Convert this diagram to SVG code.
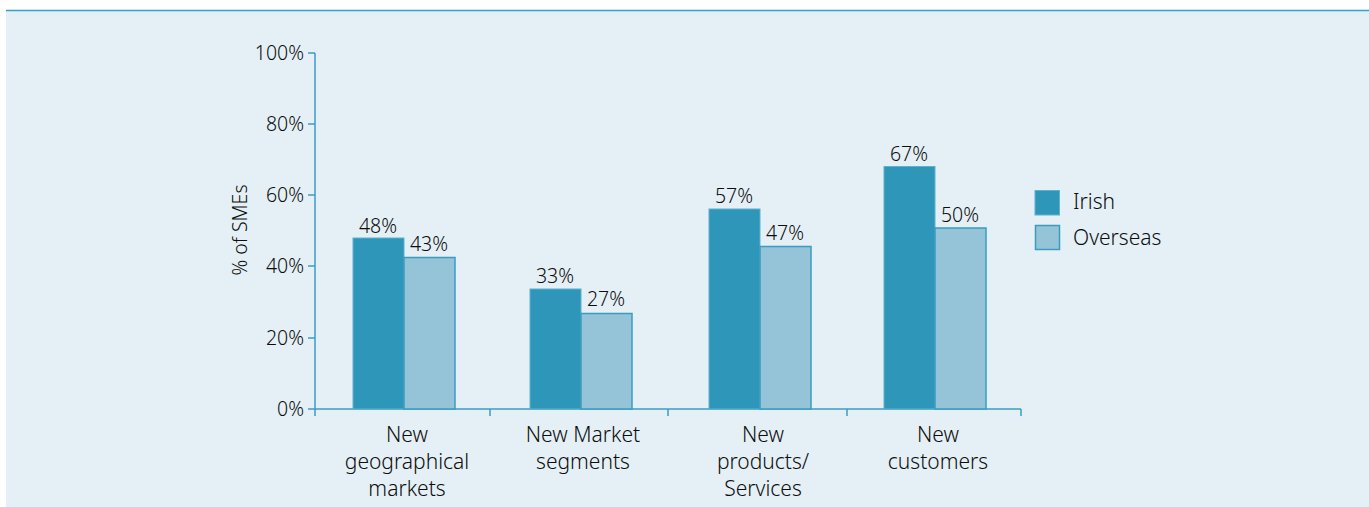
<svg xmlns="http://www.w3.org/2000/svg" width="1369" height="507" viewBox="0 0 1369 507">
<style>
.t{font-family:"Noto Sans","Open Sans","Liberation Sans",sans-serif;fill:#0d0d0d;font-weight:300}
.v{font-size:19.5px;text-anchor:middle}
.y{font-size:19.5px;text-anchor:end}
.c{font-size:21px;text-anchor:middle}
.yt{font-size:19.5px;text-anchor:middle}
.l{font-size:21px}
.ir{fill:#2e96b8;stroke:#5fb0cc;stroke-width:1}
.ov{fill:#95c3d8;stroke:#3a9cc0;stroke-width:1.5}
.ax{stroke:#3a9cc8;stroke-width:1.5;fill:none}
</style>
<rect x="6" y="10" width="1363" height="497" fill="#e4f0f5"/>
<line x1="6" y1="10.5" x2="1369" y2="10.5" stroke="#2ea0cc" stroke-width="1.5"/>
<g id="axes">
<path class="ax" d="M315 53V409M308 53H315M308 124H315M308 195H315M308 266H315M308 338H315M308 409H1021M315 409V416M490 409V416M668 409V416M847 409V416M1021 409V416"/>
<text class="t y" x="304" y="60">100%</text>
<text class="t y" x="304" y="131">80%</text>
<text class="t y" x="304" y="202">60%</text>
<text class="t y" x="304" y="273">40%</text>
<text class="t y" x="304" y="345">20%</text>
<text class="t y" x="304" y="416">0%</text>
<text class="t yt" transform="translate(247 230) rotate(-90)">% of SMEs</text>
</g>
<g id="g1">
<rect class="ir" x="353" y="238" width="51" height="171"/>
<rect class="ov" x="404" y="257.5" width="51" height="151.5"/>
<text class="t v" x="378" y="233">48%</text>
<text class="t v" x="429" y="251">43%</text>
<text class="t c" x="407" y="442">New</text>
<text class="t c" x="407" y="469">geographical</text>
<text class="t c" x="407" y="496">markets</text>
</g>
<g id="g2">
<rect class="ir" x="530" y="289" width="51" height="120"/>
<rect class="ov" x="581" y="313.5" width="51" height="95.5"/>
<text class="t v" x="555" y="283">33%</text>
<text class="t v" x="606" y="306">27%</text>
<text class="t c" x="583" y="442">New Market</text>
<text class="t c" x="583" y="469">segments</text>
</g>
<g id="g3">
<rect class="ir" x="709" y="209" width="51" height="200"/>
<rect class="ov" x="760" y="246.5" width="51" height="162.5"/>
<text class="t v" x="734" y="203">57%</text>
<text class="t v" x="785" y="240">47%</text>
<text class="t c" x="763" y="442">New</text>
<text class="t c" x="763" y="469">products/</text>
<text class="t c" x="763" y="496">Services</text>
</g>
<g id="g4">
<rect class="ir" x="884" y="166.5" width="51" height="242.5"/>
<rect class="ov" x="935" y="228" width="51" height="181"/>
<text class="t v" x="909" y="161">67%</text>
<text class="t v" x="960" y="222">50%</text>
<text class="t c" x="938" y="442">New</text>
<text class="t c" x="938" y="469">customers</text>
</g>
<g id="legend">
<rect class="ir" x="1035" y="190.5" width="24.5" height="24.5"/>
<rect class="ov" x="1035.5" y="225.5" width="24" height="24"/>
<text class="t l" x="1073" y="209">Irish</text>
<text class="t l" x="1073" y="245">Overseas</text>
</g>
</svg>
